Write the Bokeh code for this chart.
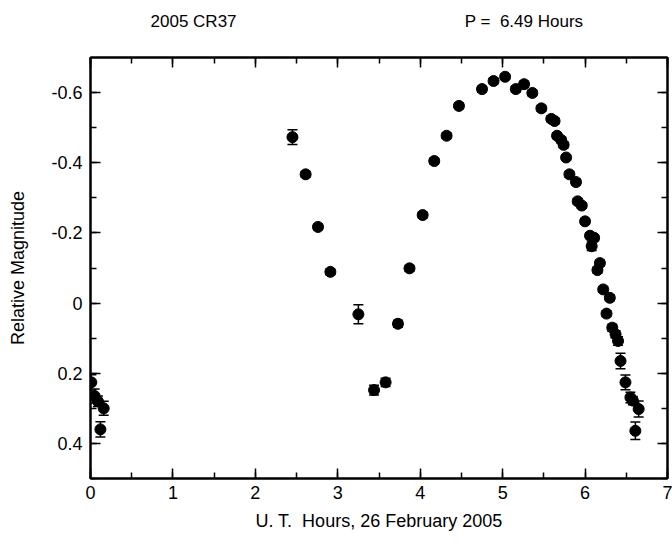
from bokeh.plotting import figure
from bokeh.models import (Range1d, LinearAxis, SingleIntervalTicker, FixedTicker, CustomJSTickFormatter,
                          ColumnDataSource, Whisker, TeeHead)
from bokeh.embed import file_html
from bokeh.resources import INLINE

# ---- data ----
hours = [0.01, 0.05, 0.09, 0.12, 0.16,
         2.45, 2.61, 2.76, 2.91, 3.25, 3.44, 3.58, 3.73, 3.87,
         4.03, 4.17, 4.32, 4.47, 4.75, 4.89, 5.03, 5.16, 5.26, 5.36,
         5.47, 5.59, 5.63, 5.66, 5.71, 5.74, 5.77, 5.81, 5.89, 5.91,
         5.96, 6.00, 6.06, 6.08, 6.11, 6.15, 6.18, 6.22, 6.26, 6.30,
         6.33, 6.37, 6.40, 6.43, 6.49, 6.55, 6.58, 6.61, 6.65]
rel_mag = [0.226, 0.265, 0.280, 0.360, 0.300,
           -0.473, -0.367, -0.217, -0.089, 0.032, 0.248, 0.226, 0.059, -0.099,
           -0.251, -0.405, -0.477, -0.562, -0.610, -0.633, -0.645, -0.610, -0.624, -0.599,
           -0.555, -0.525, -0.519, -0.477, -0.465, -0.451, -0.415, -0.367, -0.345, -0.290,
           -0.278, -0.233, -0.192, -0.162, -0.186, -0.094, -0.114, -0.039, 0.030, -0.015,
           0.070, 0.089, 0.108, 0.165, 0.226, 0.269, 0.278, 0.364, 0.302]
mag_err = [0.022, 0.020, 0.015, 0.022, 0.020,
           0.021, 0.008, 0.008, 0.008, 0.027, 0.014, 0.012, 0.010, 0.008,
           0.008, 0.008, 0.008, 0.008, 0.008, 0.008, 0.008, 0.008, 0.008, 0.008,
           0.008, 0.008, 0.008, 0.008, 0.008, 0.008, 0.008, 0.008, 0.008, 0.008,
           0.008, 0.008, 0.008, 0.012, 0.008, 0.008, 0.008, 0.008, 0.008, 0.008,
           0.010, 0.010, 0.012, 0.022, 0.021, 0.015, 0.012, 0.025, 0.023]

title_left = "2005 CR37"
title_right = "P =\u00a0 6.49 Hours"
title_pos = [1.25, 5.26]  # horizontal centres of the two header texts (hours)
x_label = "U. T.\u00a0 Hours, 26 February 2005"
y_label = "Relative Magnitude"

FONT = "Liberation Sans"
FS = "18px"

src = ColumnDataSource(dict(
    x=hours, y=rel_mag,
    lo=[m - e for m, e in zip(rel_mag, mag_err)],
    hi=[m + e for m, e in zip(rel_mag, mag_err)],
))

p = figure(width=672, height=545, output_backend="svg", toolbar_location=None,
           x_range=Range1d(0, 7), y_range=Range1d(0.5, -0.7),
           min_border_left=90, min_border_right=5, min_border_top=57, min_border_bottom=67,
           x_axis_location=None, y_axis_location=None)
p.grid.visible = False
p.outline_line_color = "black"
p.outline_line_width = 2
p.background_fill_color = "white"
p.border_fill_color = "white"

yfmt = CustomJSTickFormatter(code="const t = Math.round(tick*10)/10; return t === 0 ? '0' : t.toFixed(1);")
blank = CustomJSTickFormatter(code="return '';")


def style_axis(ax):
    ax.axis_line_color = "black"
    ax.axis_line_width = 2
    ax.major_tick_in = 10
    ax.major_tick_out = 0
    ax.minor_tick_in = 6
    ax.minor_tick_out = 0
    ax.major_tick_line_width = 1.5
    ax.minor_tick_line_width = 1.5
    ax.major_tick_line_color = "black"
    ax.minor_tick_line_color = "black"
    ax.major_label_text_font = FONT
    ax.major_label_text_font_size = FS
    ax.major_label_text_color = "black"
    ax.axis_label_text_font = FONT
    ax.axis_label_text_font_size = FS
    ax.axis_label_text_font_style = "normal"
    ax.axis_label_text_color = "black"


xb = LinearAxis(ticker=SingleIntervalTicker(interval=1, num_minor_ticks=2), axis_label=x_label)
style_axis(xb)
xb.major_label_standoff = 7
xb.axis_label_standoff = 9
p.add_layout(xb, "below")

xt = LinearAxis(ticker=SingleIntervalTicker(interval=1, num_minor_ticks=2), formatter=blank)
style_axis(xt)
xt.major_label_standoff = 0
p.add_layout(xt, "above")

# header texts drawn as the labels of an invisible top axis
ht = LinearAxis(ticker=FixedTicker(ticks=title_pos, minor_ticks=[]),
                formatter=CustomJSTickFormatter(args=dict(a=title_left, b=title_right),
                                                code="return tick < 3.5 ? a : b;"))
style_axis(ht)
ht.axis_line_color = None
ht.major_tick_line_color = None
ht.minor_tick_line_color = None
ht.major_label_text_font_size = "17px"
ht.major_label_standoff = 27
p.add_layout(ht, "above")

yl = LinearAxis(ticker=SingleIntervalTicker(interval=0.2, num_minor_ticks=2),
                formatter=yfmt, axis_label=y_label)
style_axis(yl)
yl.major_label_standoff = 8
yl.axis_label_standoff = 20
p.add_layout(yl, "left")

yr = LinearAxis(ticker=SingleIntervalTicker(interval=0.2, num_minor_ticks=2), formatter=blank)
style_axis(yr)
yr.major_label_standoff = 0
p.add_layout(yr, "right")

# error bars
wh = Whisker(base="x", lower="lo", upper="hi", source=src, line_color="black", line_width=1.5,
             lower_head=TeeHead(size=10, line_color="black", line_width=1.5),
             upper_head=TeeHead(size=10, line_color="black", line_width=1.5))
p.add_layout(wh)

p.scatter("x", "y", source=src, marker="circle", size=11, fill_color="black", line_color="black")

open("out.html", "w").write(file_html(p, INLINE))
